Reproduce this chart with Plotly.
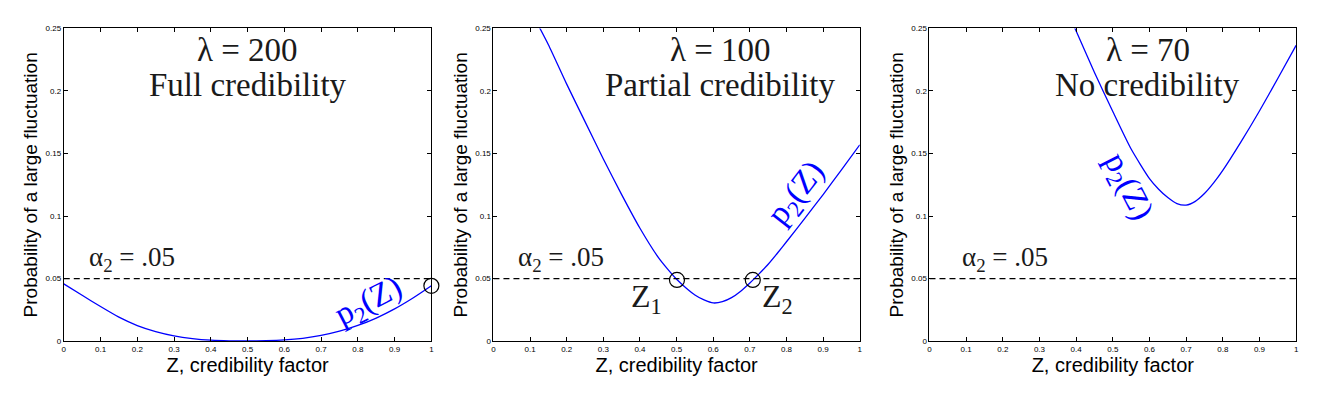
import plotly.graph_objects as go

# ---- data ----
z_grid200 = [0.0, 0.05, 0.1, 0.15, 0.2, 0.25, 0.3, 0.35, 0.4, 0.45, 0.5,
             0.55, 0.6, 0.65, 0.7, 0.75, 0.8, 0.85, 0.9, 0.95, 1.0]
p2_lambda200 = [0.0458, 0.0367, 0.0277, 0.0192, 0.0125, 0.0077, 0.0043, 0.0021,
                0.0008, 0.0003, 0.0002, 0.0004, 0.0010, 0.0023, 0.0046, 0.0080,
                0.0126, 0.0185, 0.0258, 0.0345, 0.0443]
z_grid100 = [0.0, 0.05, 0.1, 0.15, 0.2, 0.25, 0.3, 0.35, 0.4, 0.45, 0.475, 0.5,
             0.525, 0.55, 0.575, 0.6, 0.625, 0.65, 0.675, 0.7, 0.725, 0.75, 0.775,
             0.8, 0.85, 0.9, 0.95, 1.0]
p2_lambda100 = [0.320, 0.293, 0.265, 0.237, 0.2055, 0.1755, 0.1456, 0.1172,
                0.0903, 0.0670, 0.0578, 0.0495, 0.0428, 0.0370, 0.0330, 0.0306,
                0.0316, 0.0348, 0.0400, 0.0465, 0.0538, 0.0615, 0.0703, 0.0795,
                0.0982, 0.1172, 0.1370, 0.1570]
z_grid70 = [0.3, 0.35, 0.4, 0.45, 0.5, 0.55, 0.6, 0.625, 0.65, 0.675, 0.7,
            0.725, 0.75, 0.775, 0.8, 0.85, 0.9, 0.95, 1.0]
p2_lambda70 = [0.310, 0.280, 0.248, 0.2148, 0.1836, 0.1536, 0.1300, 0.1215,
               0.1148, 0.1100, 0.1088, 0.1118, 0.1180, 0.1265, 0.1365, 0.1595,
               0.1840, 0.2100, 0.2365]
alpha2 = 0.05
circles_z = [[1.0], [0.501, 0.708], []]
circles_p = [[0.0443], [0.049, 0.049], []]
lambdas = ["λ = 200", "λ = 100", "λ = 70"]
verdicts = ["Full credibility", "Partial credibility", "No credibility"]
x_ticks = [0, 0.1, 0.2, 0.3, 0.4, 0.5, 0.6, 0.7, 0.8, 0.9, 1]
x_ticktext = ["0", "0.1", "0.2", "0.3", "0.4", "0.5", "0.6", "0.7", "0.8", "0.9", "1"]
y_ticks = [0, 0.05, 0.1, 0.15, 0.2, 0.25]
y_ticktext = ["0", "0.05", "0.1", "0.15", "0.2", "0.25"]

W, H = 1328, 399
x_domains = [[62 / W, 431 / W], [493.3 / W, 861 / W], [931 / W, 1299 / W]]
y_domain = [1 - 345 / H, 1 - 25 / H]

curves = [(z_grid200, p2_lambda200), (z_grid100, p2_lambda100), (z_grid70, p2_lambda70)]

fig = go.Figure()
SANS = "Liberation Sans, Arial, sans-serif"
SERIF = "Liberation Serif, Times New Roman, serif"
TXT = "#1a1a1a"

for i in range(3):
    xa = "x" if i == 0 else f"x{i+1}"
    ya = "y" if i == 0 else f"y{i+1}"
    zs, ps = curves[i]
    fig.add_trace(go.Scatter(x=zs, y=ps, mode="lines",
                             line=dict(color="#0000ff", width=1.3, shape="spline", smoothing=0.6),
                             xaxis=xa, yaxis=ya, showlegend=False, hoverinfo="skip"))
    fig.add_trace(go.Scatter(x=[0, 1], y=[alpha2, alpha2], mode="lines",
                             line=dict(color="black", width=1.2, dash="6px,4px"),
                             xaxis=xa, yaxis=ya, showlegend=False, hoverinfo="skip"))
    if circles_z[i]:
        fig.add_trace(go.Scatter(x=circles_z[i], y=circles_p[i], mode="markers",
                                 marker=dict(symbol="circle-open", size=15, color="black", line=dict(width=1.2)),
                                 xaxis=xa, yaxis=ya, showlegend=False, hoverinfo="skip", cliponaxis=False))

    axkey = "xaxis" if i == 0 else f"xaxis{i+1}"
    aykey = "yaxis" if i == 0 else f"yaxis{i+1}"
    fig.update_layout(**{
        axkey: dict(domain=x_domains[i], anchor=ya, range=[0, 1], tickmode="array",
                    tickvals=x_ticks, ticktext=x_ticktext, ticks="inside", ticklen=4,
                    tickcolor="black", showline=True, linecolor="black", linewidth=1,
                    mirror="ticks", showgrid=False, zeroline=False,
                    tickfont=dict(family=SANS, size=8, color="black"),
                    title=dict(text="Z, credibility factor", font=dict(family=SANS, size=20, color="black"),
                               standoff=1)),
        aykey: dict(domain=y_domain, anchor=xa, range=[0, 0.25], tickmode="array",
                    tickvals=y_ticks, ticktext=y_ticktext, ticks="inside", ticklen=4,
                    tickcolor="black", showline=True, linecolor="black", linewidth=1,
                    mirror="ticks", showgrid=False, zeroline=False,
                    tickfont=dict(family=SANS, size=8, color="black"),
                    title=dict(text="Probability of a large fluctuation",
                               font=dict(family=SANS, size=19, color="black"), standoff=2)),
    })

annotations = []
title_x = [0.5, 0.621, 0.596]
alpha_x = [0.062, 0.062, 0.084]
p2_pos = [(0.83, 0.031, -27), (0.83, 0.118, -52), (0.54, 0.123, 63)]
for i in range(3):
    xa = "x" if i == 0 else f"x{i+1}"
    ya = "y" if i == 0 else f"y{i+1}"
    annotations.append(dict(x=title_x[i], y=0.233, xref=xa, yref=ya, text=lambdas[i], showarrow=False,
                            font=dict(family=SERIF, size=33, color=TXT), xanchor="center", yanchor="middle"))
    annotations.append(dict(x=title_x[i], y=0.205, xref=xa, yref=ya, text=verdicts[i], showarrow=False,
                            font=dict(family=SERIF, size=33, color=TXT), xanchor="center", yanchor="middle"))
    annotations.append(dict(x=alpha_x[i], y=0.0655, xref=xa, yref=ya, text="α<sub>2</sub> = .05", showarrow=False,
                            font=dict(family=SERIF, size=27, color=TXT), xanchor="left", yanchor="middle"))
    px, py, ang = p2_pos[i]
    annotations.append(dict(x=px, y=py, xref=xa, yref=ya, text="p<sub>2</sub>(Z)", showarrow=False,
                            textangle=ang, font=dict(family=SERIF, size=33, color="#0000ff"),
                            xanchor="center", yanchor="middle"))
annotations.append(dict(x=0.417, y=0.034, xref="x2", yref="y2", text="Z<sub>1</sub>", showarrow=False,
                        font=dict(family=SERIF, size=32, color=TXT), xanchor="center", yanchor="middle"))
annotations.append(dict(x=0.776, y=0.034, xref="x2", yref="y2", text="Z<sub>2</sub>", showarrow=False,
                        font=dict(family=SERIF, size=32, color=TXT), xanchor="center", yanchor="middle"))

fig.update_layout(width=W, height=H, margin=dict(l=0, r=0, t=0, b=0),
                  paper_bgcolor="white", plot_bgcolor="white", annotations=annotations)

fig.write_html("out.html", config={"displayModeBar": False},
               post_script="document.body.style.margin='0';")
